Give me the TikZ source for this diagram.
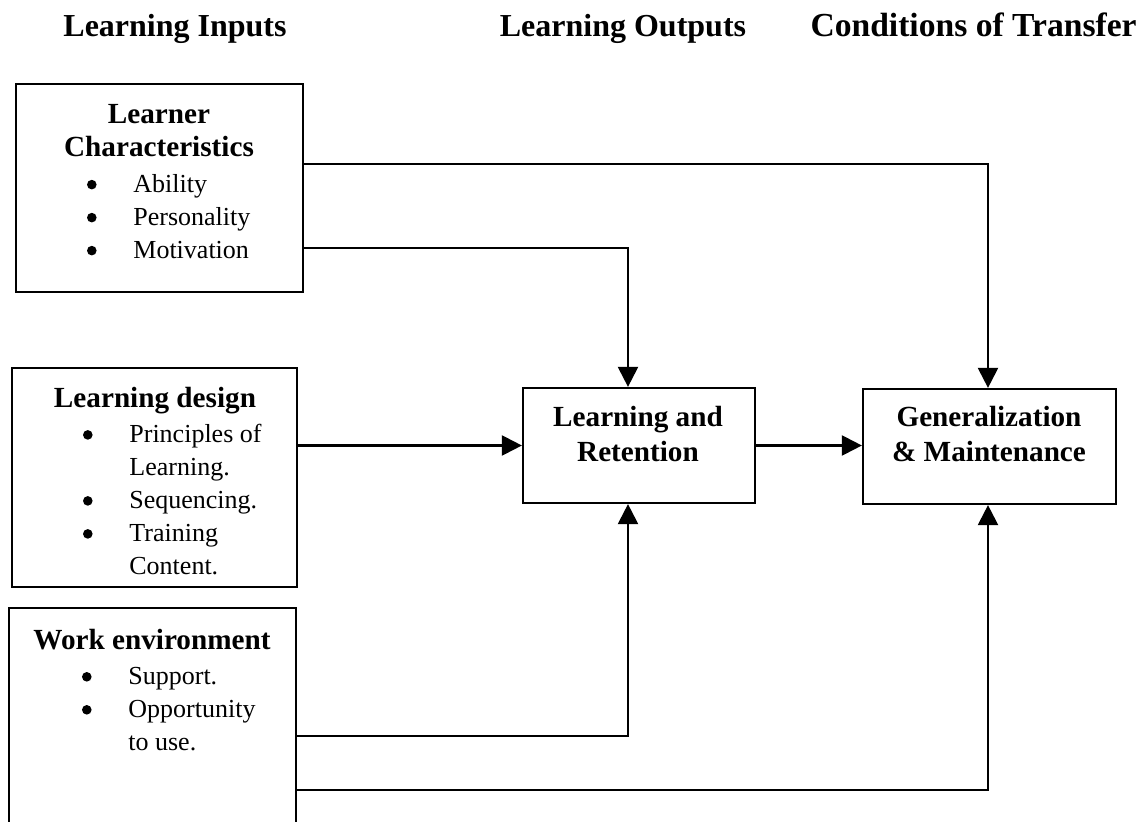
\documentclass[tikz,border=0pt]{standalone}
\usepackage{fontspec}
\setmainfont{Liberation Serif}
\usetikzlibrary{arrows.meta}
\tikzset{
  hdr/.style={font=\fontsize{16}{19}\selectfont\bfseries, inner sep=0pt},
  ttl/.style={font=\fontsize{14.6}{16.5}\selectfont\bfseries, align=center, inner sep=0pt},
  ttlb/.style={font=\fontsize{14.6}{17.5}\selectfont\bfseries, align=center, inner sep=0pt},
  lst/.style={font=\fontsize{13}{16.5}\selectfont, align=left, inner sep=0pt, anchor=north west},
  box/.style={draw, line width=1.1pt, inner sep=0pt},
  arr/.style={line width=1.1pt, -{Triangle[length=10pt,width=10pt]}}
}
\newcommand{\bul}{\makebox[23.5pt][l]{\hspace{0.3pt}\tikz[baseline=0pt]\fill (2.4pt,3.9pt) circle (2.4pt);}}
\newcommand{\nob}{\makebox[23.5pt][l]{}}
\begin{document}
\begin{tikzpicture}[x=0.5pt,y=-0.5pt]
\useasboundingbox (0,0) rectangle (1142,822);
\clip (0,0) rectangle (1142,822);
% headers
\node[hdr, anchor=base] (h1) at (175,37) {Learning Inputs};
\node[hdr, anchor=base] (h2) at (623,37) {Learning Outputs};
\node[hdr, anchor=base east, font=\fontsize{16.8}{19}\selectfont\bfseries] (h3) at (1137,37) {Conditions of Transfer};
% boxes
\node[box, minimum width=143.5pt, minimum height=104pt] (b1) at (159.5,188) {};
\node[box, minimum width=142.5pt, minimum height=109.5pt] (b2) at (154.5,477.5) {};
\node[box, minimum width=143.5pt, minimum height=121pt] (b3) at (152.5,729) {};
\node[box, minimum width=116pt, minimum height=57.5pt] (c) at (639,445.5) {};
\node[box, minimum width=126.5pt, minimum height=57.5pt] (r) at (989.5,446.5) {};
% box texts
\node[ttl] (t1) at (159,131) {Learner\\Characteristics};
\node[lst] (l1) at (86,174) {\bul Ability\\\bul Personality\\\bul Motivation};
\node[ttl, anchor=base] (t2) at (155,408) {Learning design};
\node[lst] (l2) at (82,424) {\bul Principles of\\\nob Learning.\\\bul Sequencing.\\\bul Training\\\nob Content.};
\node[ttl, anchor=base] (t3) at (152,650) {Work environment};
\node[lst] (l3) at (81,667) {\bul Support.\\\bul Opportunity\\\nob to use.};
\node[ttlb] (tc) at (638,434.5) {Learning and\\Retention};
\node[ttlb] (tr) at (989,434.5) {Generalization\\\& Maintenance};
% connectors
\coordinate (k1) at (988,164);
\coordinate (k2) at (628,248);
\coordinate (k3) at (628,736);
\coordinate (k4) at (988,790);
\draw[arr] (b1.east |- k1) -- (k1) -- (r.north -| k1);
\draw[arr] (b1.east |- k2) -- (k2) -- (c.north -| k2);
\draw[arr] (b2.east |- c.west) -- (c.west);
\draw[arr] (c.east) -- (r.west |- c.east);
\draw[arr] (b3.east |- k3) -- (k3) -- (c.south -| k3);
\draw[arr] (b3.east |- k4) -- (k4) -- (r.south -| k4);
\end{tikzpicture}
\end{document}
